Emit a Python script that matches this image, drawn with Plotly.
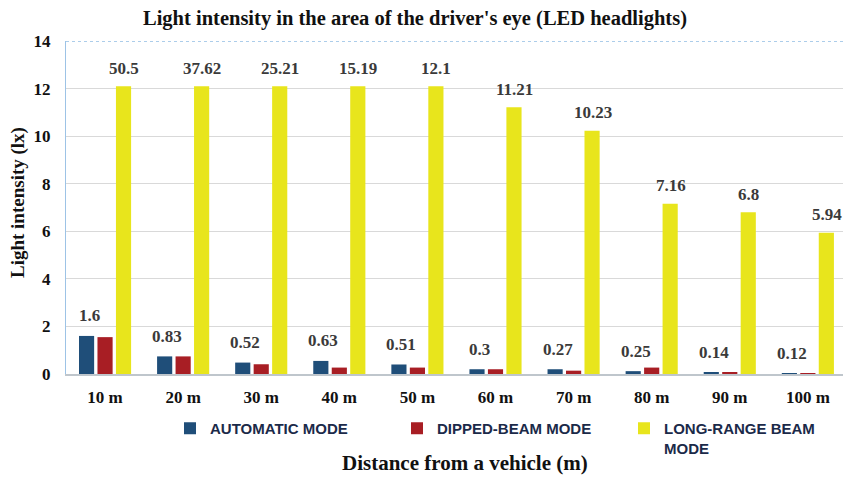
import plotly.graph_objects as go

categories = ["10 m", "20 m", "30 m", "40 m", "50 m", "60 m", "70 m", "80 m", "90 m", "100 m"]

# bar heights as drawn in the picture
automatic_heights = [1.6, 0.74, 0.48, 0.55, 0.40, 0.20, 0.20, 0.12, 0.06, 0.01]
dipped_heights = [1.55, 0.74, 0.41, 0.27, 0.27, 0.20, 0.14, 0.27, 0.06, 0.01]
long_range_heights = [12.1, 12.1, 12.1, 12.1, 12.1, 11.21, 10.23, 7.16, 6.8, 5.94]

# data labels shown above the bars
automatic_labels = ["1.6", "0.83", "0.52", "0.63", "0.51", "0.3", "0.27", "0.25", "0.14", "0.12"]
long_range_labels = ["50.5", "37.62", "25.21", "15.19", "12.1", "11.21", "10.23", "7.16", "6.8", "5.94"]

y_ticks = [0, 2, 4, 6, 8, 10, 12, 14]

SERIF = "Liberation Serif, Times New Roman, serif"
SANS = "Liberation Sans, Arial, sans-serif"
W, H = 843, 477
L, R, T, B = 66, 0, 41, 103

fig = go.Figure()
fig.add_trace(go.Bar(name="AUTOMATIC MODE", x=categories, y=automatic_heights,
                     marker=dict(color="#1F4E79", line=dict(width=0))))
fig.add_trace(go.Bar(name="DIPPED-BEAM MODE", x=categories, y=dipped_heights,
                     marker=dict(color="#A81E24", line=dict(width=0))))
fig.add_trace(go.Bar(name="LONG-RANGE BEAM<br>MODE", x=categories, y=long_range_heights,
                     marker=dict(color="#E8E51C", line=dict(width=0))))

label_font = dict(family=SERIF, size=17, color="#3A3A3A", weight="bold")
annotations = []
for c, h, t in zip(categories, automatic_heights, automatic_labels):
    annotations.append(dict(x=c, y=h, text=t, showarrow=False, xshift=-16, yshift=20,
                            font=label_font, xref="x", yref="y"))
for c, h, t in zip(categories, long_range_heights, long_range_labels):
    annotations.append(dict(x=c, y=h, text=t, showarrow=False, xshift=19, yshift=18,
                            font=label_font, xref="x", yref="y"))

pw = W - L - R
ph = H - T - B
# axis titles
annotations.append(dict(text="Distance from a vehicle (m)", showarrow=False,
                        xref="paper", yref="paper",
                        x=(465 - L) / pw, y=-(463 - (T + ph)) / ph,
                        xanchor="center", yanchor="middle",
                        font=dict(family=SERIF, size=21, color="#111111", weight="bold")))
annotations.append(dict(text="Light intensity (lx)", showarrow=False, textangle=-90,
                        xref="paper", yref="paper",
                        x=(18 - L) / pw, y=1 - (203 - T) / ph,
                        xanchor="center", yanchor="middle",
                        font=dict(family=SERIF, size=19, color="#111111", weight="bold")))

fig.update_layout(
    width=W, height=H,
    margin=dict(l=L, r=R, t=T, b=B),
    paper_bgcolor="white", plot_bgcolor="white",
    barmode="group", bargap=0.29, bargroupgap=0.18,
    title=dict(text="Light intensity in the area of the driver's eye (LED headlights)",
               x=415 / W, xanchor="center", xref="container",
               y=1 - 18 / H, yanchor="middle", yref="container",
               font=dict(family=SERIF, size=20.5, color="#111111", weight="bold")),
    xaxis=dict(
        type="category",
        range=[-0.5, 9.45],
        automargin=False,
        showgrid=False,
        showline=True, linecolor="#BFC6CC", linewidth=2,
        ticks="", ticklabelstandoff=7,
        tickfont=dict(family=SERIF, size=17, color="#111111", weight="bold"),
    ),
    yaxis=dict(
        range=[0, 14], tickvals=y_ticks,
        tickformat="d",
        automargin=False,
        showgrid=True, gridcolor="#D9D9D9", gridwidth=1,
        showline=True, linecolor="#9DC3E6", linewidth=1,
        zeroline=False,
        ticks="", ticklabelstandoff=11,
        tickfont=dict(family=SERIF, size=17, color="#111111", weight="bold"),
    ),
    legend=dict(
        orientation="h",
        x=170 / W, xanchor="left", xref="container",
        y=1 - 412 / H, yanchor="top", yref="container",
        font=dict(family=SANS, size=15, color="#1B2A49", weight="bold"),
        entrywidth=182, entrywidthmode="pixels",
        valign="top",
        traceorder="normal",
        bgcolor="rgba(0,0,0,0)",
    ),
    annotations=annotations,
    shapes=[dict(type="line", xref="paper", yref="y", x0=0, x1=1, y0=14, y1=14,
                 line=dict(color="#5B9BD5", width=1.2, dash="dot"))],
)

fig.write_html(
    "out.html",
    config={"displayModeBar": False},
    post_script="document.body.style.margin='0';document.body.style.overflow='hidden';"
                "document.documentElement.style.overflow='hidden';",
)
